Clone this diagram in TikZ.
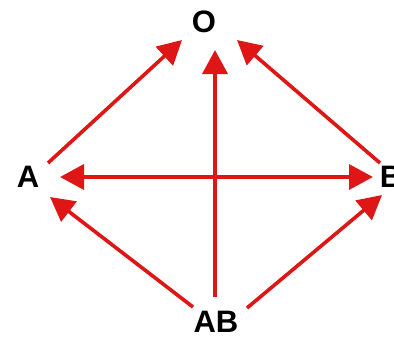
\documentclass[tikz,border=0pt]{standalone}
\usepackage{fontspec}
\setmainfont{Liberation Sans}
\usetikzlibrary{arrows.meta}
\definecolor{arrred}{RGB}{222,22,22}
\tikzset{
  lbl/.style={font=\bfseries\fontsize{31}{31}\selectfont, text=black, inner sep=0pt},
  conn/.style={draw=arrred, line width=3.6pt, -{Triangle[length=24pt,width=25pt]}},
  conn2/.style={draw=arrred, line width=3.6pt, {Triangle[length=24pt,width=25pt]}-{Triangle[length=24pt,width=25pt]}}
}
\begin{document}
\begin{tikzpicture}[x=1pt,y=-1pt]
\useasboundingbox (0,0) rectangle (394,340);
\node[lbl] (O) at (204,22) {O};
\node[lbl] (A) at (28,177) {A};
\node[lbl] (B) at (391,177) {B};
\node[lbl] (AB) at (216,322) {AB};
% connector end points
\coordinate (AtoO1) at (48,163);
\coordinate (AtoO2) at (182,40);
\coordinate (BtoO1) at (380,163);
\coordinate (BtoO2) at (237,40);
\coordinate (ABtoO1) at (215,297);
\coordinate (ABtoO2) at (215,50);
\coordinate (AB1) at (60,177);
\coordinate (AB2) at (373,177);
\coordinate (ABtoA1) at (193,307);
\coordinate (ABtoA2) at (50,197);
\coordinate (ABtoB1) at (247,308);
\coordinate (ABtoB2) at (382,195);
\draw[conn] (AtoO1) -- (AtoO2);
\draw[conn] (BtoO1) -- (BtoO2);
\draw[conn] (ABtoO1) -- (ABtoO2);
\draw[conn2] (AB1) -- (AB2);
\draw[conn] (ABtoA1) -- (ABtoA2);
\draw[conn] (ABtoB1) -- (ABtoB2);
\end{tikzpicture}
\end{document}
